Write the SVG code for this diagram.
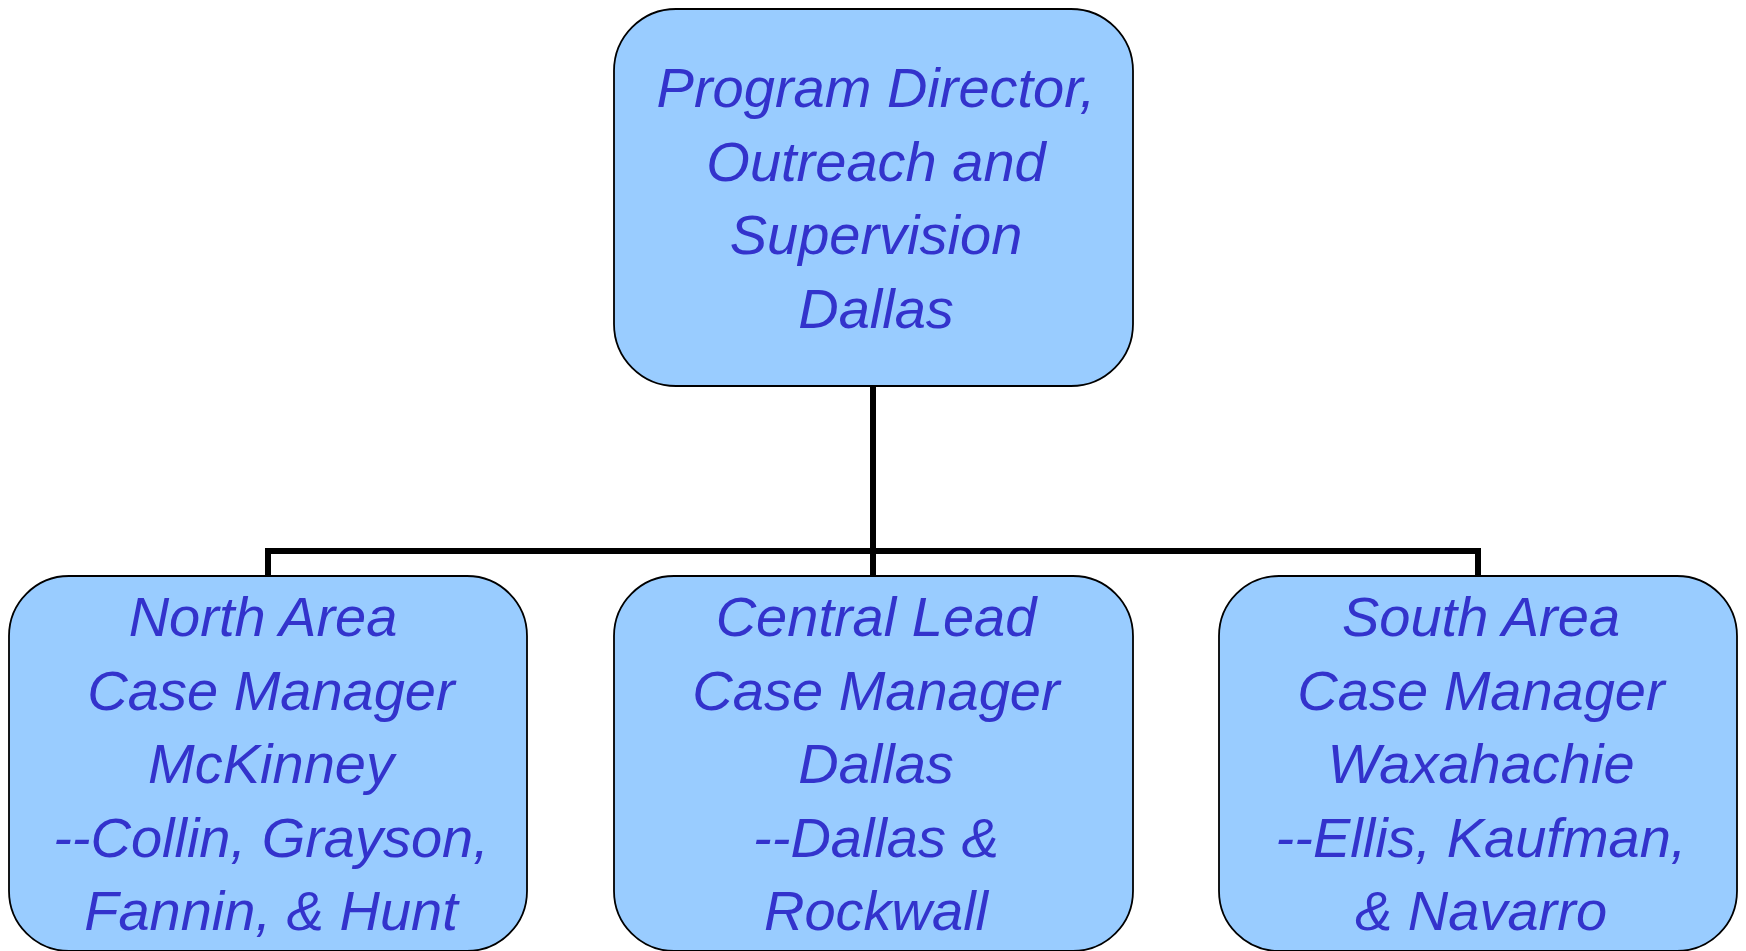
<svg xmlns="http://www.w3.org/2000/svg" width="1746" height="951" viewBox="0 0 1746 951">
<style>
.box{fill:#99CCFF;stroke:#000;stroke-width:1.8}
.t{font-family:"Liberation Sans",Arial,sans-serif;font-style:italic;font-size:56px;fill:#3333CC;text-anchor:middle}
.c{fill:none;stroke:#000;stroke-width:6}
</style>
<rect width="1746" height="951" fill="#fff"/>
<g id="connectors">
<path class="c" d="M873 386 V551 M268 551 H1478 M268 548 V576 M873 551 V576 M1478 548 V576"/>
</g>
<g id="director">
<rect class="box" x="614" y="9" width="519" height="377" rx="62"/>
<text class="t" x="876"><tspan x="876" y="107">Program Director,</tspan><tspan x="876" y="180.5">Outreach and</tspan><tspan x="876" y="254">Supervision</tspan><tspan x="876" y="327.5">Dallas</tspan></text>
</g>
<g id="north">
<rect class="box" x="9" y="576" width="518" height="375" rx="60"/>
<text class="t" x="271"><tspan x="263" y="636">North Area</tspan><tspan x="271" y="709.5">Case Manager</tspan><tspan x="271" y="783">McKinney</tspan><tspan x="271" y="856.5">--Collin, Grayson,</tspan><tspan x="271" y="930">Fannin, &amp; Hunt</tspan></text>
</g>
<g id="central">
<rect class="box" x="614" y="576" width="519" height="375" rx="60"/>
<text class="t" x="876"><tspan x="876" y="636">Central Lead</tspan><tspan x="876" y="709.5">Case Manager</tspan><tspan x="876" y="783">Dallas</tspan><tspan x="876" y="856.5">--Dallas &amp;</tspan><tspan x="876" y="930">Rockwall</tspan></text>
</g>
<g id="south">
<rect class="box" x="1219" y="576" width="518" height="375" rx="60"/>
<text class="t" x="1481"><tspan x="1481" y="636">South Area</tspan><tspan x="1481" y="709.5">Case Manager</tspan><tspan x="1481" y="783">Waxahachie</tspan><tspan x="1481" y="856.5">--Ellis, Kaufman,</tspan><tspan x="1481" y="930">&amp; Navarro</tspan></text>
</g>
</svg>
